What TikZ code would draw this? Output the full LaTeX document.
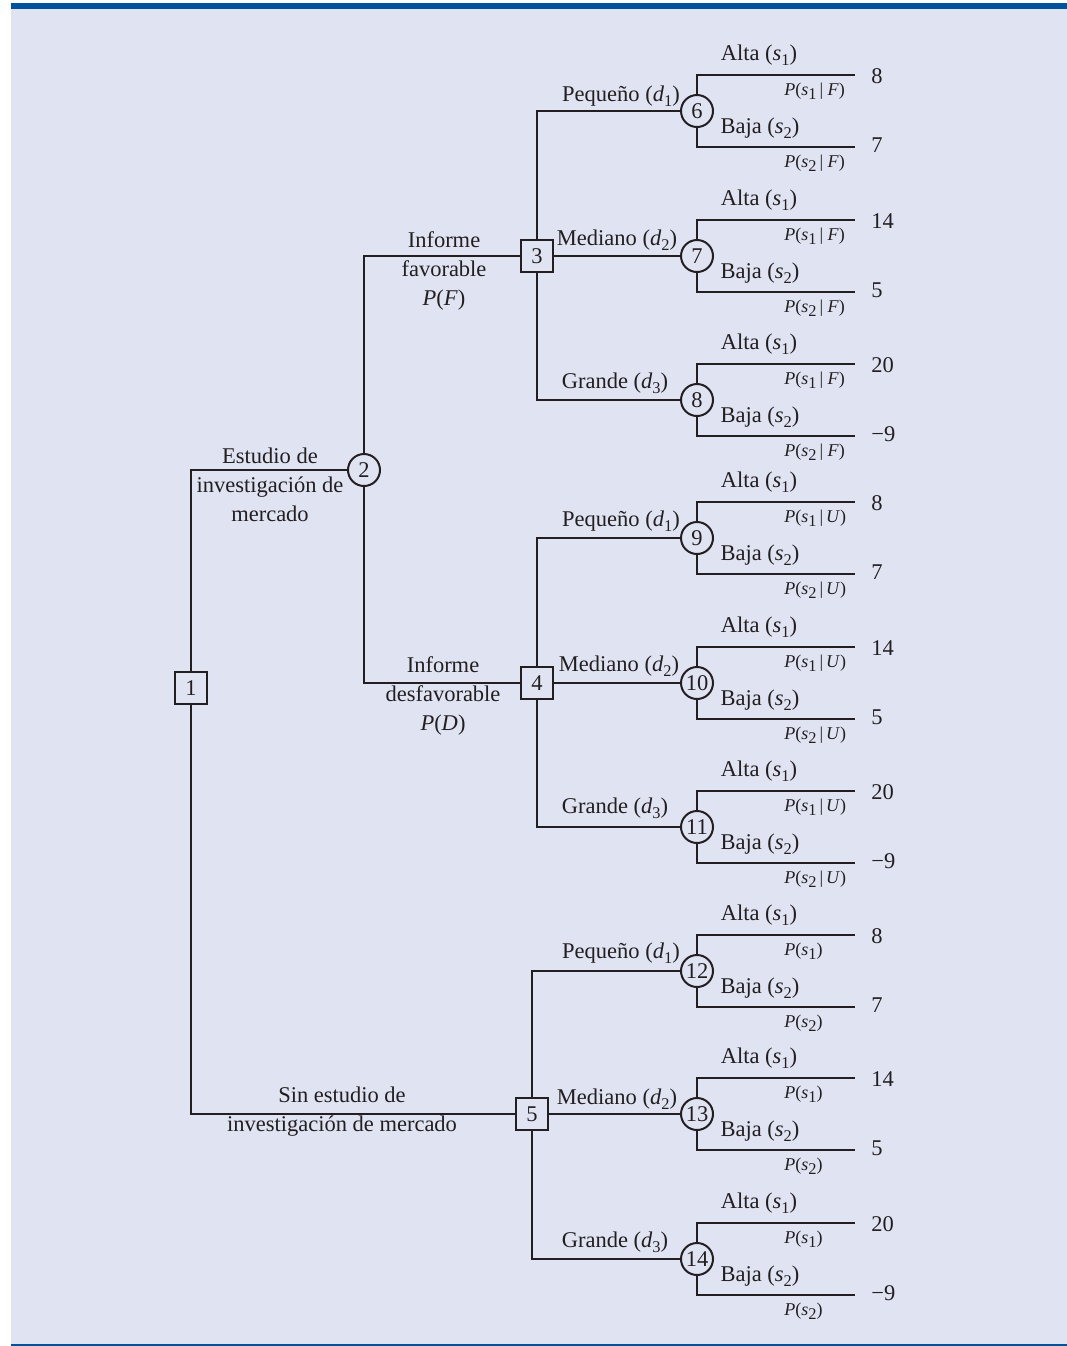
\documentclass[tikz,border=0pt]{standalone}
\usepackage{fontspec}
\setmainfont{Liberation Serif}
\definecolor{bg}{HTML}{DFE3F2}
\definecolor{bar}{HTML}{00529C}
\definecolor{ink}{HTML}{231F20}
\newcommand\Sub[1]{\raisebox{-0.45ex}{\fontsize{8.2}{9}\selectfont #1}}
\newcommand\Ss[1]{\textit{s}\Sub{#1}}
\newcommand\Dd[1]{\textit{d}\Sub{#1}}
\newcommand\condF{\,|\ \textit{F}}
\newcommand\condU{\,|\,\textit{U}}
\newcommand\condN{}
\newcommand\PrL[2]{\textit{P}(\Ss{#1}\csname cond#2\endcsname)}
\begin{document}
\begin{tikzpicture}[x=0.5pt,y=-0.5pt,
  font=\fontsize{11.25}{14.5}\selectfont,
  line/.style={draw=ink, line width=1pt},
  dnode/.style={draw=ink, line width=1pt, fill=bg, minimum size=16pt, inner sep=0pt, text=ink},
  cnode/.style={dnode, circle},
  lbl/.style={inner sep=0pt, text=ink},
  prob/.style={lbl, font=\fontsize{9}{11}\selectfont, anchor=west},
  pay/.style={lbl, anchor=west},
  mlbl/.style={lbl, align=center}]
\useasboundingbox (0,0) rectangle (1067,1346);
\fill[bg] (11,9) rectangle (1067,1344);
\fill[bar] (11,3) rectangle (1067,9);
\fill[bar] (11,1343.5) rectangle (1067,1346);

% decision / chance nodes of the left part
\node[dnode] (n1) at (191,688) {1};
\node[cnode] (n2) at (364,470) {2};
\node[dnode] (n3) at (537,256) {3};
\node[dnode] (n4) at (537,683) {4};
\node[dnode] (n5) at (532,1114) {5};

% right part: chance nodes with outcomes
\foreach \n/\y/\c/\pa/\pb in {
 6/111/F/8/7, 7/256/F/14/5, 8/400/F/20/−9,
 9/538/U/8/7, 10/683/U/14/5, 11/827/U/20/−9,
 12/971/N/8/7, 13/1114/N/14/5, 14/1259/N/20/−9}{
  \node[cnode] (c\n) at (697,\y) {\n};
  \coordinate (t\n) at (855,\y-36);
  \coordinate (b\n) at (855,\y+36);
  \draw[line] (c\n) |- (t\n);
  \draw[line] (c\n) |- (b\n);
  \node[lbl] (al\n) at (759,\y-56) {Alta (\Ss1)};
  \node[lbl] (ba\n) at (760,\y+17) {Baja (\Ss2)};
  \node[prob] (pa\n) at (784,\y-20) {\PrL{1}{\c}};
  \node[prob] (pb\n) at (784,\y+52) {\PrL{2}{\c}};
  \node[pay] (va\n) at (871,\y-35) {\pa};
  \node[pay] (vb\n) at (871,\y+34) {\pb};
}

% connectors
\draw[line] (n1) |- (n2);
\draw[line] (n1) |- (n5);
\draw[line] (n2) |- (n3);
\draw[line] (n2) |- (n4);
\draw[line] (n3) |- (c6);
\draw[line] (n3) -- (c7);
\draw[line] (n3) |- (c8);
\draw[line] (n4) |- (c9);
\draw[line] (n4) -- (c10);
\draw[line] (n4) |- (c11);
\draw[line] (n5) |- (c12);
\draw[line] (n5) -- (c13);
\draw[line] (n5) |- (c14);

% decision labels
\node[lbl] (d6) at (621,96) {Pequeño (\Dd1)};
\node[lbl] (d7) at (617,240) {Mediano (\Dd2)};
\node[lbl] (d8) at (615,383) {Grande (\Dd3)};
\node[lbl] (d9) at (621,521) {Pequeño (\Dd1)};
\node[lbl] (d10) at (619,666) {Mediano (\Dd2)};
\node[lbl] (d11) at (615,808) {Grande (\Dd3)};
\node[lbl] (d12) at (621,953) {Pequeño (\Dd1)};
\node[lbl] (d13) at (617,1099) {Mediano (\Dd2)};
\node[lbl] (d14) at (615,1242) {Grande (\Dd3)};

% left labels
\node[mlbl] (lf) at (444,271) {Informe\\favorable\\\textit{P}(\textit{F})};
\node[mlbl] (ld) at (443,696) {Informe\\desfavorable\\\textit{P}(\textit{D})};
\node[mlbl] (le) at (270,485) {Estudio de\\investigación de\\mercado};
\node[mlbl] (ls) at (342,1112) {Sin estudio de\\investigación de mercado};
\end{tikzpicture}
\end{document}
